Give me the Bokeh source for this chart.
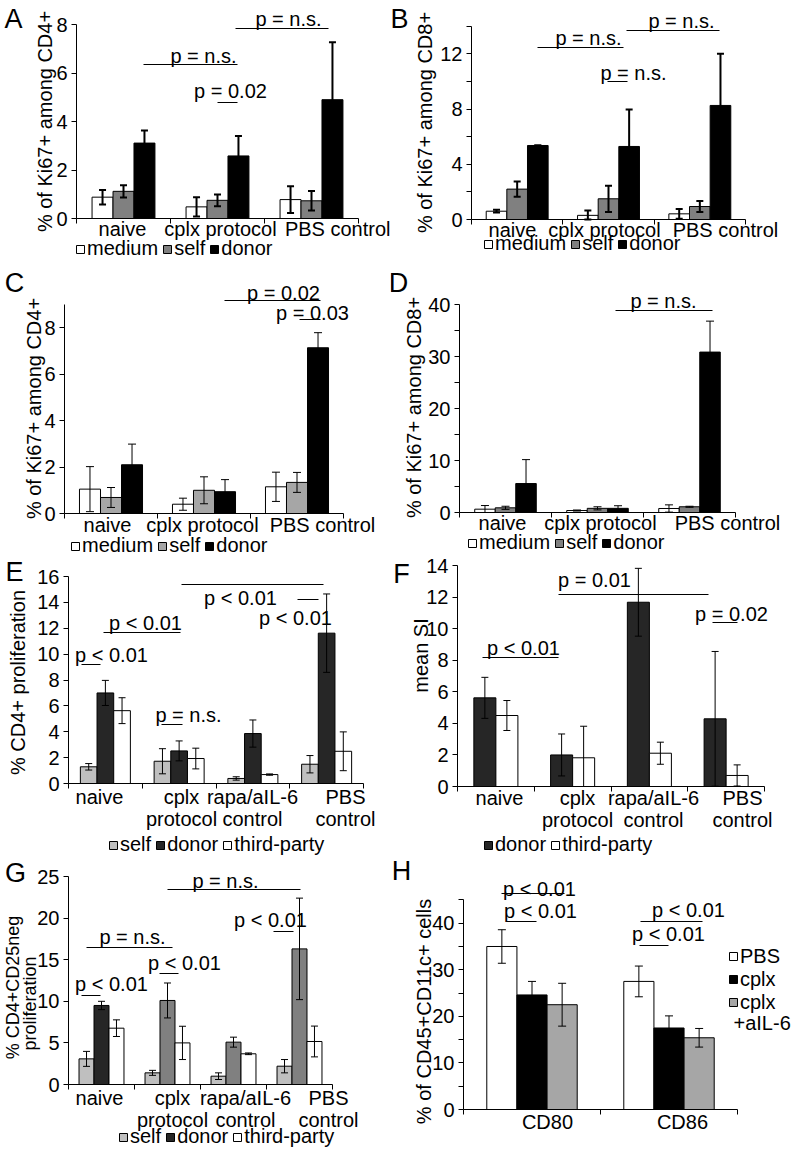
import math
from bokeh.plotting import figure
from bokeh.models import (Range1d, FixedTicker, Label, Legend, LegendItem,
                          ColumnDataSource, Whisker, TeeHead)
from bokeh.layouts import row, column
from bokeh.embed import file_html
from bokeh.resources import INLINE

FONT = "Liberation Sans"

# ---------------- data ----------------
cats_3 = ["naive", "cplx protocol", "PBS control"]
cats_4 = ["naive", "cplx\nprotocol", "rapa/aIL-6\ncontrol", "PBS\ncontrol"]
cats_H = ["CD80", "CD86"]

A_medium = [0.88, 0.48, 0.78]; A_medium_err = [0.30, 0.40, 0.55]
A_self = [1.12, 0.75, 0.73];   A_self_err = [0.25, 0.24, 0.40]
A_donor = [3.11, 2.58, 4.90];  A_donor_err = [0.52, 0.82, 2.37]

B_medium = [0.60, 0.30, 0.41]; B_medium_err = [0.10, 0.35, 0.35]
B_self = [2.20, 1.50, 0.94];   B_self_err = [0.55, 0.95, 0.40]
B_donor = [5.36, 5.29, 8.26];  B_donor_err = [0.0, 2.68, 3.75]

C_medium = [1.05, 0.40, 1.15]; C_medium_err = [0.97, 0.26, 0.63]
C_self = [0.69, 1.00, 1.34];   C_self_err = [0.43, 0.58, 0.43]
C_donor = [2.10, 0.94, 7.14];  C_donor_err = [0.89, 0.52, 0.65]

D_medium = [0.64, 0.38, 0.77]; D_medium_err = [0.70, 0.10, 0.70]
D_self = [0.90, 0.80, 1.10];   D_self_err = [0.30, 0.30, 0.10]
D_donor = [5.57, 0.80, 30.85]; D_donor_err = [4.60, 0.50, 5.95]

E_self = [1.29, 1.72, 0.39, 1.49];   E_self_err = [0.25, 0.97, 0.13, 0.67]
E_donor = [7.00, 2.52, 3.86, 11.62]; E_donor_err = [0.97, 0.77, 1.05, 3.03]
E_third = [5.63, 1.93, 0.69, 2.49];  E_third_err = [1.00, 0.80, 0.05, 1.50]

F_donor = [5.62, 2.00, 11.68, 4.29]; F_donor_err = [1.30, 1.33, 2.15, 4.27]
F_third = [4.50, 1.82, 2.11, 0.70];  F_third_err = [0.95, 2.00, 0.70, 0.67]

G_self = [3.08, 1.40, 1.00, 2.20];    G_self_err = [0.90, 0.30, 0.40, 0.80]
G_donor = [9.50, 10.10, 5.09, 16.30]; G_donor_err = [0.50, 2.10, 0.60, 6.10]
G_third = [6.77, 5.00, 3.69, 5.17];   G_third_err = [1.00, 2.00, 0.10, 1.85]

H_pbs = [35.0, 27.5];   H_pbs_err = [3.6, 3.3]
H_cplx = [24.6, 17.5];  H_cplx_err = [2.9, 2.6]
H_cplx_il6 = [22.5, 15.4]; H_cplx_il6_err = [4.6, 2.0]

WHITE, MID, LIGHT, PALE, DARK, BLACK = "#ffffff", "#808080", "#a6a6a6", "#bfbfbf", "#262626", "#000000"

# ---------------- panel specs (layout in page pixels) ----------------
specs = {
    "A": dict(fig=(0, 0, 390, 265), frame=(76, 358, 218), ycal=(24, 8), ymax=8,
              yticks=[0, 2, 4, 6, 8], yminor=[], cats=cats_3, xlab=[122, 220, 338], xls=-6,
              bw=0.223, ew=2, cap=7,
              series=[("medium", A_medium, A_medium_err, WHITE), ("self", A_self, A_self_err, MID),
                      ("donor", A_donor, A_donor_err, BLACK)],
              legend=(75, 249, "horizontal"),
              lines=[(143, 237, 64), (235, 328, 28), (217, 237, 102)],
              texts=[("p = n.s.", 203, 55), ("p = n.s.", 288, 18), ("p = 0.02", 230, 90)],
              titles=[("% of Ki67+ among CD4+", 44, 121, 20)], letter=("A", 13, 18)),
    "B": dict(fig=(390, 0, 410, 265), frame=(471, 745, 219), ycal=(53.3, 12), ymax=14,
              yticks=[0, 4, 8, 12], yminor=[2, 6, 10, 14], cats=cats_3, xlab=[512, 604, 725], xls=-6,
              bw=0.226, ew=2, cap=7,
              series=[("medium", B_medium, B_medium_err, WHITE), ("self", B_self, B_self_err, MID),
                      ("donor", B_donor, B_donor_err, BLACK)],
              legend=(483, 244, "horizontal"),
              lines=[(537, 623, 47), (626, 719, 30), (607, 627, 81)],
              texts=[("p = n.s.", 588, 37), ("p = n.s.", 681, 20), ("p = n.s.", 633, 72)],
              titles=[("% of Ki67+ among CD8+", 424, 122, 20)], letter=("B", 399, 18)),
    "C": dict(fig=(0, 265, 390, 292), frame=(64, 343, 513), ycal=(327.3, 8), ymax=9,
              yticks=[0, 2, 4, 6, 8], yminor=[], cats=cats_3, xlab=[107, 202, 322], xls=-5,
              bw=0.226, ew=1, cap=8,
              series=[("medium", C_medium, C_medium_err, WHITE), ("self", C_self, C_self_err, LIGHT),
                      ("donor", C_donor, C_donor_err, BLACK)],
              legend=(70, 546, "horizontal"),
              lines=[(224, 320, 300), (299, 320, 319)],
              texts=[("p = 0.02", 283, 292), ("p = 0.03", 312, 312)],
              titles=[("% of Ki67+ among CD4+", 33, 408, 20)], letter=("C", 14, 282)),
    "D": dict(fig=(390, 265, 410, 289), frame=(459, 735, 512), ycal=(304, 40), ymax=40,
              yticks=[0, 10, 20, 30, 40], yminor=[5, 15, 25, 35], cats=cats_3, xlab=[502, 600, 727], xls=-6,
              bw=0.223, ew=1, cap=8,
              series=[("medium", D_medium, D_medium_err, WHITE), ("self", D_self, D_self_err, MID),
                      ("donor", D_donor, D_donor_err, BLACK)],
              legend=(467, 543, "horizontal"),
              lines=[(615, 712, 310)],
              texts=[("p = n.s.", 663, 300)],
              titles=[("% of Ki67+ among CD8+", 413, 407, 20)], letter=("D", 398, 282)),
    "E": dict(fig=(0, 557, 390, 300), frame=(68, 363, 783), ycal=(576, 16), ymax=16,
              yticks=list(range(0, 17, 2)), yminor=[], cats=cats_4, xlab=[99, 181, 252, 345], xls=-3,
              bw=0.226, ew=1, cap=7,
              series=[("self", E_self, E_self_err, PALE), ("donor", E_donor, E_donor_err, DARK),
                      ("third-party", E_third, E_third_err, WHITE)],
              legend=(108, 845, "horizontal"),
              lines=[(81, 100, 664), (103, 180, 632), (161, 182, 724), (181, 323, 584), (297, 318, 599)],
              texts=[("p < 0.01", 111, 654), ("p < 0.01", 145, 622), ("p = n.s.", 188, 714),
                     ("p < 0.01", 240, 597), ("p < 0.01", 295, 617)],
              titles=[("% CD4+ proliferation", 17, 682, 20)], letter=("E", 14, 571)),
    "F": dict(fig=(390, 554, 410, 303), frame=(457, 764, 786), ycal=(596.7, 12), ymax=14,
              yticks=list(range(0, 15, 2)), yminor=[], cats=cats_4, xlab=[499, 577, 653, 742], xls=-5,
              bw=0.287, ew=1, cap=7,
              series=[("donor", F_donor, F_donor_err, DARK), ("third-party", F_third, F_third_err, WHITE)],
              legend=(483, 845, "horizontal"),
              lines=[(482, 558, 657), (558, 708, 594), (712, 737, 622)],
              texts=[("p < 0.01", 523, 647), ("p = 0.01", 594, 579), ("p = 0.02", 731, 613)],
              titles=[("mean SI", 420, 655, 20)], letter=("F", 401, 573)),
    "G": dict(fig=(0, 857, 390, 295), frame=(68, 332, 1084), ycal=(876, 25), ymax=25,
              yticks=[0, 5, 10, 15, 20, 25], yminor=[], cats=cats_4, xlab=[99, 172, 245, 328], xls=-3,
              bw=0.227, ew=1, cap=7,
              series=[("self", G_self, G_self_err, PALE),
                      ("donor", G_donor, G_donor_err, [DARK, MID, MID, MID]),
                      ("third-party", G_third, G_third_err, WHITE)],
              legend=(118, 1137, "horizontal"),
              lines=[(167, 300, 889), (86, 172, 947), (159, 178, 973), (81, 100, 995), (273, 293, 931)],
              texts=[("p = n.s.", 225, 880), ("p = n.s.", 132, 936), ("p < 0.01", 184, 962),
                     ("p < 0.01", 111, 983), ("p < 0.01", 270, 919)],
              titles=[("% CD4+CD25neg", 12, 987, 18), ("proliferation", 29, 1003, 18)],
              letter=("G", 15, 872)),
    "H": dict(fig=(390, 857, 410, 295), frame=(463, 737, 1109), ycal=(922.7, 40), ymax=45,
              yticks=[0, 10, 20, 30, 40], yminor=[5, 15, 25, 35, 45], cats=cats_H, xlab=[547, 682], xls=-4,
              bw=0.22, ew=1, cap=8,
              series=[("PBS", H_pbs, H_pbs_err, WHITE), ("cplx", H_cplx, H_cplx_err, BLACK),
                      ("cplx", H_cplx_il6, H_cplx_il6_err, LIGHT)],
              legend=(728, 961, "vertical"),
              lines=[(501, 564, 893), (506, 536, 921), (640, 702, 921), (639, 668, 945)],
              texts=[("p < 0.01", 539, 888), ("p < 0.01", 540, 910), ("p < 0.01", 688, 909),
                     ("p < 0.01", 668, 933)],
              extra=[("+aIL-6", 733, 1022)],
              titles=[("% of CD45+CD11c+ cells", 423, 1011, 20)], letter=("H", 401, 870)),
}


def style_axis(ax):
    ax.axis_line_color = "black"
    ax.axis_line_width = 1
    ax.major_tick_line_color = "black"
    ax.minor_tick_line_color = "black"
    ax.major_label_text_font = FONT
    ax.major_label_text_font_size = "20px"
    ax.major_label_text_color = "black"


def build(s):
    fx0, fy0, fw, fh = s["fig"]
    L, R, B0 = s["frame"]
    tpx, tval = s["ycal"]
    ppu = (B0 - tpx) / tval
    cats = s["cats"]
    n = len(cats)
    cw = (R - L) / n

    def X(px):
        return (px - L) / cw - 0.5

    def Y(py):
        return (B0 - py) / ppu

    # the frame fills the whole figure; axes are pinned with fixed_location
    p = figure(width=fw, height=fh, output_backend="svg", toolbar_location=None,
               x_range=Range1d(X(fx0), X(fx0 + fw)), y_range=Range1d(Y(fy0 + fh), Y(fy0)),
               min_border=0)
    p.outline_line_color = None
    p.xgrid.visible = False
    p.ygrid.visible = False

    # bars + error bars
    k = len(s["series"])
    bw = s["bw"]
    items = []
    for i, (name, vals, errs, color) in enumerate(s["series"]):
        off = (i - (k - 1) / 2) * bw
        xs = [j + off for j in range(n)]
        cols = color if isinstance(color, list) else [color] * n
        src = ColumnDataSource(dict(
            x=xs, top=vals,
            up=[v + e for v, e in zip(vals, errs)],
            lo=[max(0.0, v - e) for v, e in zip(vals, errs)],
            c=cols))
        r = p.vbar(x="x", top="top", width=bw, source=src, fill_color="c",
                   line_color="black", line_width=1)
        p.add_layout(Whisker(source=src, base="x", upper="up", lower="lo", level="overlay",
                             line_color="black", line_width=s["ew"],
                             upper_head=TeeHead(size=s["cap"], line_color="black", line_width=s["ew"]),
                             lower_head=TeeHead(size=s["cap"], line_color="black", line_width=s["ew"])))
        items.append(LegendItem(label=name, renderers=[r], index=0))

    # legend
    lx, lyc, orient = s["legend"]
    ih = 22 if orient == "horizontal" else 21
    top = lyc - ih / 2
    height = ih if orient == "horizontal" else ih * len(items)
    leg = Legend(items=items, orientation=orient,
                 location=(lx - fx0, (fy0 + fh) - (top + height)),
                 label_text_font=FONT, label_text_font_size="20px", label_text_color="black",
                 label_height=ih, glyph_height=10, glyph_width=10, label_standoff=2,
                 spacing=4 if orient == "horizontal" else 0,
                 padding=0, margin=0, border_line_color=None, background_fill_alpha=0)
    p.add_layout(leg)

    # axes
    xa = p.xaxis[0]
    xa.fixed_location = 0
    xa.bounds = (-0.5, n - 0.5)
    ticks = [round(X(px), 4) for px in s["xlab"]]
    xa.ticker = FixedTicker(ticks=ticks, minor_ticks=[j - 0.5 for j in range(n + 1)])
    xa.major_label_overrides = {t: c for t, c in zip(ticks, cats)}
    xa.major_tick_out = 0
    xa.major_tick_in = 0
    xa.minor_tick_out = 5
    xa.minor_tick_in = 0
    xa.major_label_standoff = s["xls"]
    xa.major_label_text_line_height = 1.0
    style_axis(xa)

    ya = p.yaxis[0]
    ya.fixed_location = -0.5
    ya.ticker = FixedTicker(ticks=s["yticks"], minor_ticks=s["yminor"])
    ya.bounds = (0, s["ymax"])
    ya.major_tick_out = 5
    ya.major_tick_in = 0
    ya.minor_tick_out = 5
    ya.minor_tick_in = 0
    ya.major_label_standoff = 4
    style_axis(ya)

    # significance lines and texts
    p.segment(x0=[X(a) for a, b, c in s["lines"]], x1=[X(b) for a, b, c in s["lines"]],
              y0=[Y(c) for a, b, c in s["lines"]], y1=[Y(c) for a, b, c in s["lines"]],
              line_color="black", line_width=1)
    for txt, px, py in s["texts"]:
        p.add_layout(Label(x=X(px), y=Y(py), text=txt, text_font=FONT, text_font_size="20px",
                           text_align="center", text_baseline="middle", text_color="black"))
    for txt, px, py in s.get("extra", []):
        p.add_layout(Label(x=X(px), y=Y(py), text=txt, text_font=FONT, text_font_size="20px",
                           text_align="left", text_baseline="middle", text_color="black"))
    for txt, px, py, fs in s["titles"]:
        p.add_layout(Label(x=X(px), y=Y(py), text=txt, text_font=FONT, text_font_size=f"{fs}px",
                           text_align="center", text_baseline="middle", angle=math.pi / 2,
                           text_color="black"))
    lt, px, py = s["letter"]
    p.add_layout(Label(x=X(px), y=Y(py), text=lt, text_font=FONT, text_font_size="27px",
                       text_align="center", text_baseline="middle", text_color="black"))
    return p


figs = {k: build(v) for k, v in specs.items()}
layout = row(column(figs["A"], figs["C"], figs["E"], figs["G"]),
             column(figs["B"], figs["D"], figs["F"], figs["H"]))

open("out.html", "w").write(file_html(layout, INLINE))
